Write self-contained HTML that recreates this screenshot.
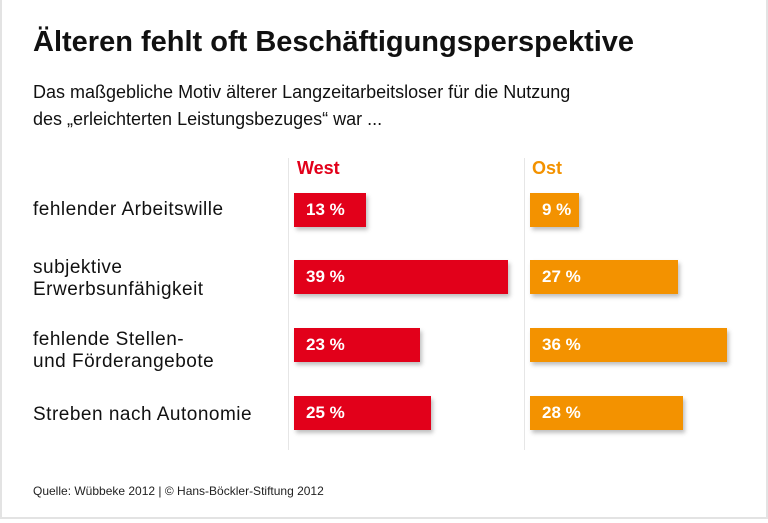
<!DOCTYPE html>
<html><head><meta charset="utf-8"><style>
body{margin:0;width:768px;height:523px;background:#fff;font-family:"Liberation Sans",sans-serif;position:relative;overflow:hidden}
.frame{position:absolute;left:0;top:0;width:764px;height:517px;border:2px solid #e3e3e3;border-top:none}
.t{position:absolute;white-space:nowrap;color:#111}
.l{font-size:19px;letter-spacing:0.5px;line-height:22px}
.bar{position:absolute;height:34px;color:#fff;font-weight:bold;font-size:17px;line-height:34px;padding-left:12px;box-sizing:border-box;box-shadow:2px 3px 4px rgba(0,0,0,0.25)}
.w{background:#e2001a;left:294px}
.o{background:#f39200;left:530px}
.vl{position:absolute;top:158px;height:292px;width:1px;background:#e6e6e6}
</style></head><body>
<div class="frame"></div>
<div class="t" style="left:33px;top:26px;font-size:29px;font-weight:bold">Älteren fehlt oft Beschäftigungsperspektive</div>
<div class="t" style="left:33px;top:79px;font-size:18px;line-height:27px">Das maßgebliche Motiv älterer Langzeitarbeitsloser für die Nutzung<br>des „erleichterten Leistungsbezuges“ war ...</div>
<div class="vl" style="left:288px"></div>
<div class="vl" style="left:524px"></div>
<div class="t" style="left:297px;top:158px;font-size:18px;font-weight:bold;color:#e2001a">West</div>
<div class="t" style="left:532px;top:158px;font-size:18px;font-weight:bold;color:#f39200">Ost</div>
<div class="t l" style="left:33px;top:199px">fehlender Arbeitswille</div>
<div class="t l" style="left:33px;top:257px">subjektive<br>Erwerbsunfähigkeit</div>
<div class="t l" style="left:33px;top:329px">fehlende Stellen-<br>und Förderangebote</div>
<div class="t l" style="left:33px;top:404px">Streben nach Autonomie</div>
<div class="bar w" style="top:193px;width:72px">13 %</div>
<div class="bar w" style="top:260px;width:214px">39 %</div>
<div class="bar w" style="top:328px;width:126px">23 %</div>
<div class="bar w" style="top:396px;width:137px">25 %</div>
<div class="bar o" style="top:193px;width:49px">9 %</div>
<div class="bar o" style="top:260px;width:148px">27 %</div>
<div class="bar o" style="top:328px;width:197px">36 %</div>
<div class="bar o" style="top:396px;width:153px">28 %</div>
<div class="t" style="left:33px;top:484px;font-size:12px;color:#222">Quelle: Wübbeke 2012 | © Hans-Böckler-Stiftung 2012</div>
</body></html>
